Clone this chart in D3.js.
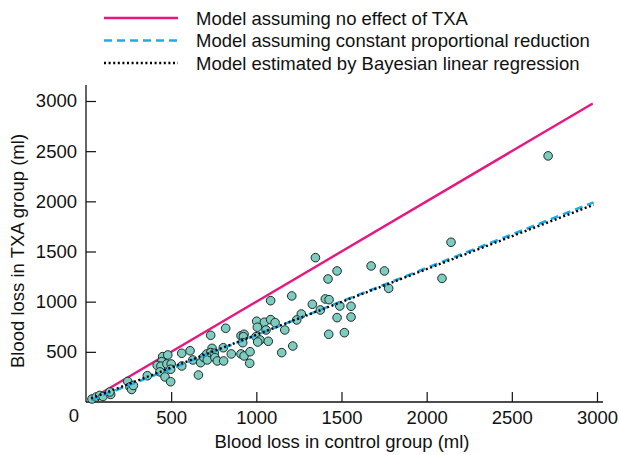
<!DOCTYPE html>
<html>
<head>
<meta charset="utf-8">
<script src="https://cdn.jsdelivr.net/npm/d3@7"></script>
<style>
  body { margin: 0; background: #fff; }
  text { font-family: "Liberation Sans", Arial, Helvetica, sans-serif; fill: #111; }
</style>
</head>
<body>
<div id="chart"></div>
<script>
// patients: [control group blood loss, TXA group blood loss] (ml)
var control = [35, 60, 80, 100, 145, 140, 245, 258, 268, 278, 360,
  450, 480, 444, 418, 440, 475, 500, 497, 434, 464, 497,
  562, 562, 611, 627, 660, 673, 691, 709, 712, 732, 740, 732, 753, 757, 771, 808,
  806, 820, 853, 910, 928, 924, 920, 910, 928, 963, 961, 998, 1022, 1008,
  1002, 1047, 1084, 1110, 1006, 1057, 1167, 1070, 1149, 1214, 1084, 1208,
  1264, 1237, 1329, 1376, 1405, 1427, 1421, 1490, 1556, 1474, 1556, 1425, 1517,
  1347, 1474, 1674, 1752, 1777, 2090, 2143, 2713];
var txa = [30, 50, 65, 55, 75, 100, 205, 150, 125, 165, 262,
  452, 469, 402, 365, 357, 379, 379, 326, 300, 250, 202,
  486, 359, 511, 419, 269, 392, 446, 479, 419, 665, 535, 492, 486, 442, 409, 409,
  541, 735, 479, 661, 675, 651, 591, 479, 459, 501, 386, 651, 618, 598,
  805, 795, 821, 791, 745, 718, 718, 605, 492, 558, 1010, 1057,
  877, 818, 974, 917, 1027, 1020, 1226, 957, 954, 841, 847, 675, 691,
  1439, 1306, 1356, 1306, 1133, 1232, 1592, 2453];

// model lines: endpoints [x, y]
var noEffect = [[30, 30], [2975, 2975]];
var proportional = [[30, 20], [2980, 1990]];
var bayesian = [[30, 35], [2980, 1966]];

var xTicks = [500, 1000, 1500, 2000, 2500, 3000];
var yTicks = [500, 1000, 1500, 2000, 2500, 3000];

var legendLabels = ["Model assuming no effect of TXA",
  "Model assuming constant proportional reduction",
  "Model estimated by Bayesian linear regression"];

var width = 619, height = 455;
var x = d3.scaleLinear().domain([0, 3000]).range([86, 597]);
var y = d3.scaleLinear().domain([0, 3000]).range([402, 101]);

var svg = d3.select("#chart").append("svg")
    .attr("width", width)
    .attr("height", height);

// axes (ticks point inward)
var xAxis = svg.append("g")
    .attr("transform", "translate(0," + y(0) + ")")
    .call(d3.axisBottom(x).tickValues(xTicks).tickFormat(d3.format("d")).tickSize(-10).tickPadding(11));
var yAxis = svg.append("g")
    .attr("transform", "translate(" + x(0) + ",0)")
    .call(d3.axisLeft(y).tickValues(yTicks).tickFormat(d3.format("d")).tickSize(-10).tickPadding(9));
[xAxis, yAxis].forEach(function(g) {
  g.select(".domain").remove();
  g.selectAll(".tick line").attr("stroke", "#111").attr("stroke-width", 1.2);
  g.selectAll(".tick text").attr("font-size", 18.5).attr("fill", "#111")
    .attr("font-family", "Liberation Sans, Arial, sans-serif");
});
xAxis.selectAll(".tick text").attr("dy", "0.6em");

svg.append("line")
    .attr("x1", x(0)).attr("x2", 603)
    .attr("y1", y(0)).attr("y2", y(0))
    .attr("stroke", "#111").attr("stroke-width", 1.3);
svg.append("line")
    .attr("x1", x(0)).attr("x2", x(0))
    .attr("y1", y(0)).attr("y2", 85)
    .attr("stroke", "#111").attr("stroke-width", 1.3);

svg.append("text")
    .attr("x", 74).attr("y", 422)
    .attr("text-anchor", "middle")
    .attr("font-size", 18.5)
    .text("0");

// axis titles
svg.append("text")
    .attr("x", 342).attr("y", 448)
    .attr("text-anchor", "middle")
    .attr("font-size", 18.5)
    .text("Blood loss in control group (ml)");
svg.append("text")
    .attr("transform", "translate(24,251) rotate(-90)")
    .attr("text-anchor", "middle")
    .attr("font-size", 18.5)
    .text("Blood loss in TXA group (ml)");

// model lines
var line = d3.line()
    .x(function(d) { return x(d[0]); })
    .y(function(d) { return y(d[1]); });

svg.append("path")
    .datum(noEffect)
    .attr("d", line)
    .attr("fill", "none")
    .attr("stroke", "#e8177f")
    .attr("stroke-width", 2.4);

// points
var pts = control.map(function(c, i) { return {c: c, t: txa[i]}; });
svg.selectAll("circle.pt")
    .data(pts)
  .enter().append("circle")
    .attr("class", "pt")
    .attr("r", 4.3)
    .attr("cx", function(d) { return x(d.c); })
    .attr("cy", function(d) { return y(d.t); })
    .attr("fill", "#7ecbbf")
    .attr("stroke", "#1d2b29")
    .attr("stroke-width", 1);

svg.append("path")
    .datum(proportional)
    .attr("d", line)
    .attr("fill", "none")
    .attr("stroke", "#19aee8")
    .attr("stroke-width", 2.6)
    .attr("stroke-dasharray", "8,5");

svg.append("path")
    .datum(bayesian)
    .attr("d", line)
    .attr("fill", "none")
    .attr("stroke", "#000")
    .attr("stroke-width", 2.4)
    .attr("stroke-dasharray", "2,2.6");

// legend
var legendStyles = [
  {stroke: "#e8177f", dash: null, w: 2.4},
  {stroke: "#19aee8", dash: "8,5", w: 2.6},
  {stroke: "#000", dash: "2,2.6", w: 2.4}
];
var legend = svg.selectAll("g.leg")
    .data(legendLabels)
  .enter().append("g")
    .attr("class", "leg")
    .attr("transform", function(d, i) { return "translate(0," + (18 + i * 22.5) + ")"; });
legend.append("line")
    .attr("x1", 104).attr("x2", 178)
    .attr("stroke", function(d, i) { return legendStyles[i].stroke; })
    .attr("stroke-width", function(d, i) { return legendStyles[i].w; })
    .attr("stroke-dasharray", function(d, i) { return legendStyles[i].dash; });
legend.append("text")
    .attr("x", 196).attr("y", 6.5)
    .attr("font-size", 18.5)
    .text(function(d) { return d; });
</script>
</body>
</html>
